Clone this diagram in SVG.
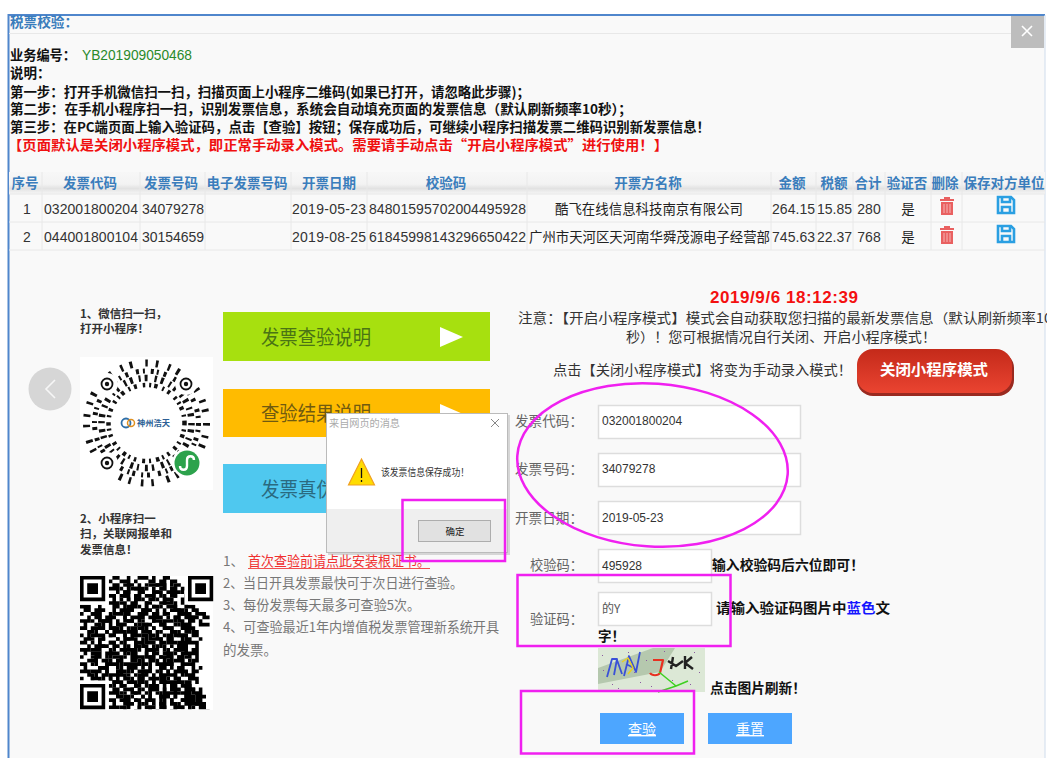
<svg xmlns="http://www.w3.org/2000/svg" width="1047" height="758" viewBox="0 0 1047 758">
<style>
text{font-family:"Noto Sans CJK SC","Liberation Sans",sans-serif;font-size:13.5px;fill:#222}
.l{font-family:"Liberation Sans","Noto Sans CJK SC",sans-serif;font-size:14px;fill:#333}
.b{font-weight:700;fill:#111}
.h{font-weight:700;fill:#3a7dbc;text-anchor:middle}
.m{text-anchor:middle}
.g{fill:#777;font-size:13.5px}
.f{fill:#666;font-size:14px}
.v{font-family:"Liberation Sans",sans-serif;font-size:12px;fill:#333}
.o{fill:none;stroke:#f020f0;stroke-width:2.5}
.grid{stroke:#e8e8e8;stroke-width:1;fill:none}
.inp{fill:#fff;stroke:#ddd;stroke-width:1.5}
.tr{fill:#e96060}
.btn{fill:#4da6ff}
.wt{fill:#fff;font-size:14px;text-anchor:middle;text-decoration:underline}
</style>
<defs>
<linearGradient id="hd" x1="0" y1="0" x2="0" y2="1"><stop offset="0" stop-color="#f7f7f7"/><stop offset=".55" stop-color="#f3f3f3"/><stop offset=".75" stop-color="#e2e2e2"/><stop offset="1" stop-color="#f6f6f6"/></linearGradient>
<linearGradient id="rb" x1="0" y1="0" x2="0" y2="1"><stop offset="0" stop-color="#c42a1a"/><stop offset="1" stop-color="#ea4431"/></linearGradient>
<clipPath id="qc"><rect width="37" height="37"/></clipPath>
<g id="trash"><path class="tr" d="M-7-7h14v2h-14zM-3-9h6v2h-6z"/><path class="tr" d="M-6-4h12v13h-12z"/><path d="M-3-2v9M0-2v9M3-2v9" stroke="#f5b5b5" stroke-width="1" fill="none"/></g>
<g id="save" fill="none" stroke="#2a9fe2" stroke-width="2.6"><path d="M-8-8h13l3 3v13h-16z"/><path d="M-4-8v5h8v-5"/><path d="M-4 8v-6h8v6"/></g>
<g id="finder"><circle r="5.5" fill="none" stroke="#111" stroke-width="1.8"/><circle r="2.2" fill="#111"/></g>
<path id="qrbits" fill="none" stroke="#000" stroke-width="1.02" d="
M9 .5h2m2 0h1m2 0h3m1 0h1m2 0h2M8 1.5h1m2 0h3m1 0h1m3 0h2m1 0h2m1 0h2M9 2.5h2m2 0h2m3 0h1m2 0h3m1 0h1M8 3.5h3m2 0h1m1 0h3m2 0h1m2 0h1m2 0h1M10 4.5h1m1 0h2m3 0h1m2 0h3m2 0h3M8 5.5h2m2 0h1m2 0h2m3 0h1m1 0h1m2 0h2M9 6.5h1m1 0h1m1 0h1m1 0h1m1 0h1m1 0h1m1 0h1m1 0h1M8 7.5h3m3 0h2m2 0h1m3 0h3m1 0h1
M0 8.5h3m2 0h1m3 0h2m2 0h3m2 0h1m1 0h2m3 0h2m2 0h3M1 9.5h2m1 0h3m2 0h1m3 0h2m2 0h3m3 0h1m2 0h3m2 0h2M0 10.5h1m2 0h3m3 0h3m1 0h1m3 0h1m2 0h2m1 0h1m3 0h2m1 0h1
M2 11.5h1m2 0h1m2 0h1m3 0h1m1 0h3m2 0h2m3 0h1m1 0h2m2 0h3M0 12.5h3m2 0h3m2 0h1m2 0h2m2 0h1m2 0h3m2 0h1m1 0h2M1 13.5h1m2 0h1m1 0h1m3 0h3m3 0h1m1 0h1m3 0h2m2 0h1m1 0h2
M0 14.5h2m3 0h2m2 0h1m1 0h1m2 0h2m2 0h1m1 0h1m2 0h3m2 0h2M2 15.5h2m3 0h1m2 0h3m2 0h1m1 0h3m2 0h1m2 0h1m1 0h1m2 0h1M0 16.5h1m1 0h1m2 0h2m1 0h1m3 0h1m2 0h2m2 0h2m3 0h2m1 0h3
M1 17.5h3m2 0h1m3 0h1m1 0h2m3 0h1m1 0h1m2 0h1m1 0h2m3 0h1M0 18.5h2m3 0h1m2 0h2m2 0h1m2 0h3m2 0h1m3 0h3m1 0h2M2 19.5h1m2 0h3m2 0h1m1 0h1m2 0h1m1 0h2m2 0h1m1 0h1m3 0h3
M0 20.5h3m2 0h1m3 0h1m2 0h3m1 0h1m2 0h3m2 0h1m1 0h2m1 0h1M1 21.5h1m1 0h2m2 0h2m3 0h1m1 0h1m3 0h1m1 0h1m2 0h3m2 0h2M0 22.5h1m3 0h1m2 0h1m1 0h3m2 0h2m2 0h3m1 0h1m2 0h1m1 0h2
M2 23.5h3m3 0h1m2 0h1m2 0h1m1 0h1m2 0h2m3 0h2m2 0h1m1 0h1M0 24.5h2m2 0h1m2 0h3m1 0h1m3 0h2m2 0h1m1 0h1m1 0h3m2 0h2M1 25.5h1m3 0h3m2 0h1m2 0h3m3 0h1m2 0h2m1 0h1m1 0h2
M0 26.5h3m2 0h1m1 0h1m3 0h1m1 0h1m2 0h3m2 0h1m2 0h1m2 0h3M2 27.5h2m2 0h2m2 0h3m2 0h1m1 0h1m2 0h1m1 0h3m1 0h1m2 0h1M0 28.5h1m2 0h1m2 0h1m1 0h1m3 0h2m2 0h2m2 0h1m1 0h2m2 0h2
M9 29.5h3m2 0h1m1 0h2m2 0h1m1 0h3m2 0h2m1 0h1M8 30.5h1m2 0h2m2 0h1m2 0h1m1 0h2m3 0h2m1 0h3M9 31.5h2m3 0h1m1 0h1m2 0h3m1 0h1m2 0h1m2 0h3
M8 32.5h3m1 0h1m2 0h2m2 0h1m2 0h1m2 0h3m1 0h2M10 33.5h2m2 0h1m2 0h1m1 0h1m2 0h2m2 0h1m2 0h3M8 34.5h2m3 0h1m1 0h2m2 0h2m2 0h1m1 0h1m2 0h1m1 0h2
M9 35.5h1m2 0h2m2 0h1m1 0h1m3 0h2m3 0h1m2 0h3M8 36.5h3m2 0h1m2 0h1m2 0h2m2 0h1m2 0h3m1 0h1"/>
</defs>
<rect width="1047" height="758" fill="#fff"/>
<g id="panel">
<rect x="8.5" y="15" width="1036.5" height="750" fill="#f9f9f9"/>
<path d="M8.500 760V15H1045" fill="none" stroke="#4f86cc" stroke-width="2"/>
<path d="M1045 15V760" fill="none" stroke="#cfdcec" stroke-width="1"/>
<path class="grid" d="M9 33.500H1044"/>
<text x="10" y="27" class="b" style="fill:#3a7dbc" textLength="68" lengthAdjust="spacingAndGlyphs">税票校验：</text>
</g>
<g id="close"><rect x="1011" y="16" width="33" height="32" fill="#bdbdbd"/><path d="M1022 26l10 10M1032 26l-10 10" stroke="#fff" stroke-width="1.600"/></g>
<g id="intro">
<text x="10" y="60" class="b" textLength="66" lengthAdjust="spacingAndGlyphs">业务编号：</text>
<text x="82" y="60" class="l" style="fill:#2a8a2a" textLength="110" lengthAdjust="spacingAndGlyphs">YB201909050468</text>
<text x="10" y="78" class="b">说明：</text>
<text x="10" y="97" class="b" textLength="520" lengthAdjust="spacingAndGlyphs">第一步：打开手机微信扫一扫，扫描页面上小程序二维码(如果已打开，请忽略此步骤)；</text>
<text x="10" y="114" class="b" textLength="622" lengthAdjust="spacingAndGlyphs">第二步：在手机小程序扫一扫，识别发票信息，系统会自动填充页面的发票信息（默认刷新频率10秒）；</text>
<text x="10" y="132" class="b" textLength="700" lengthAdjust="spacingAndGlyphs">第三步：在PC端页面上输入验证码，点击【查验】按钮；保存成功后，可继续小程序扫描发票二维码识别新发票信息！</text>
<text x="8" y="150" class="b" style="fill:#f01010" textLength="660" lengthAdjust="spacingAndGlyphs">【页面默认是关闭小程序模式，即正常手动录入模式。需要请手动点击“开启小程序模式”进行使用！】</text>
</g>
<g id="invoice-table">
<rect x="9" y="172" width="1036" height="22" fill="url(#hd)"/>
<path class="grid" d="M9 194H1045M9 222H1045M9 250H1045M42 172V250M140 172V250M205 172V250M291 172V250M367 172V250M527 172V250M771 172V250M816 172V250M853 172V250M885 172V250M931 172V250M962 172V250"/>
<text x="25" y="188" class="h">序号</text><text x="90" y="188" class="h">发票代码</text><text x="171" y="188" class="h">发票号码</text><text x="247" y="188" class="h">电子发票号码</text><text x="329" y="188" class="h">开票日期</text><text x="446" y="188" class="h">校验码</text><text x="648" y="188" class="h">开票方名称</text><text x="792" y="188" class="h">金额</text><text x="834" y="188" class="h">税额</text><text x="868" y="188" class="h">合计</text><text x="907" y="188" class="h">验证否</text><text x="945" y="188" class="h">删除</text><text x="1004" y="188" class="h">保存对方单位</text>
<text x="27" y="214" class="l m">1</text><text x="44" y="214" class="l" textLength="94">032001800204</text><text x="142" y="214" class="l" textLength="62">34079278</text><text x="292" y="214" class="l" textLength="74">2019-05-23</text><text x="369" y="214" class="l" textLength="157">84801595702004495928</text><text x="649" y="214" class="m" textLength="188" lengthAdjust="spacingAndGlyphs">酷飞在线信息科技南京有限公司</text><text x="772" y="214" class="l" textLength="43">264.15</text><text x="817" y="214" class="l" textLength="35">15.85</text><text x="869" y="214" class="l m">280</text><text x="908" y="214" class="m">是</text>
<use href="#trash" x="947" y="206"/><use href="#save" x="1006" y="205"/>
<text x="27" y="242" class="l m">2</text><text x="44" y="242" class="l" textLength="94">044001800104</text><text x="142" y="242" class="l" textLength="62">30154659</text><text x="292" y="242" class="l" textLength="74">2019-08-25</text><text x="369" y="242" class="l" textLength="157">61845998143296650422</text><text x="529" y="242" textLength="241" lengthAdjust="spacingAndGlyphs">广州市天河区天河南华舜茂源电子经营部</text><text x="772" y="242" class="l" textLength="43">745.63</text><text x="817" y="242" class="l" textLength="35">22.37</text><text x="869" y="242" class="l m">768</text><text x="908" y="242" class="m">是</text>
<use href="#trash" x="947" y="235"/><use href="#save" x="1006" y="234"/>
</g>
<g id="prev"><circle cx="50" cy="389" r="21.500" fill="#d6d6d6"/><path d="M55 380l-9 9 9 9" fill="none" stroke="#f6f6f6" stroke-width="1.600"/></g>
<g id="step1">
<text x="80" y="318" class="b" style="font-size:11.500px;fill:#333">1、微信扫一扫，</text>
<text x="80" y="333" class="b" style="font-size:11.500px;fill:#333">打开小程序！</text>
</g>
<g id="wechat-code">
<rect x="80" y="357" width="133" height="133" fill="#fff"/>
<g fill="none" stroke="#111">
<circle cx="146.500" cy="423" r="38" stroke-width="4.500" stroke-dasharray="2.500 4 2 3 3.500 5 2 4 3 6"/>
<circle cx="146.500" cy="423" r="45" stroke-width="6.500" stroke-dasharray="2.400 4 3 6 2 4 3 7"/>
<circle cx="146.500" cy="423" r="52" stroke-width="5" stroke-dasharray="3 4 2 6 3 3 2 5 3 8"/>
<circle cx="146.500" cy="423" r="60" stroke-width="7" stroke-dasharray="2.600 10 2.500 7 3 13 2.500 8"/>
</g>
<circle cx="107" cy="384" r="11" fill="#fff"/><circle cx="186" cy="384" r="11" fill="#fff"/><circle cx="107" cy="463" r="11" fill="#fff"/><circle cx="187" cy="463" r="15" fill="#fff"/>
<use href="#finder" x="107" y="384"/><use href="#finder" x="186" y="384"/><use href="#finder" x="107" y="463"/>
<circle cx="187" cy="463" r="12.500" fill="#2ca24c"/>
<path d="M180 466c0 5 7 5 7 0v-6c0-5 7-5 7 0" fill="none" stroke="#fff" stroke-width="2.400"/>
<circle cx="146.500" cy="423" r="33" fill="#fff"/>
<circle cx="126" cy="423" r="4.500" fill="none" stroke="#2f6fa8" stroke-width="1.800"/><circle cx="131" cy="423" r="3.500" fill="none" stroke="#e09020" stroke-width="1.500"/>
<text x="137" y="426" class="b" style="font-size:8px;fill:#2c5f95" textLength="33" lengthAdjust="spacingAndGlyphs">神州浩天</text>
</g>
<g id="step2">
<text x="80" y="523" class="b" style="font-size:11.500px;fill:#333">2、小程序扫一</text>
<text x="80" y="538" class="b" style="font-size:11.500px;fill:#333">扫，关联网报单和</text>
<text x="80" y="554" class="b" style="font-size:11.500px;fill:#333">发票信息！</text>
</g>
<g id="qr-code">
<rect x="80" y="576" width="133" height="134" fill="#fff"/>
<g transform="translate(80,576) scale(3.6)">
<g clip-path="url(#qc)"><use href="#qrbits"/><use href="#qrbits" x="3" y="2"/></g>
<path fill="#fff" d="M0 0h8v8h-8zM29 0h8v8h-8zM0 29h8v8h-8z"/>
<path fill="#000" fill-rule="evenodd" d="M0 0h7v7h-7zM1 1v5h5v-5zM2 2h3v3h-3zM30 0h7v7h-7zM31 1v5h5v-5zM32 2h3v3h-3zM0 30h7v7h-7zM1 31v5h5v-5zM2 32h3v3h-3z"/>
</g>
</g>
<g id="guide-buttons">
<rect x="223" y="312" width="267" height="49" fill="#a7e00f"/>
<text x="261" y="345" style="font-size:20px;fill:#4a7414" textLength="110" lengthAdjust="spacingAndGlyphs">发票查验说明</text>
<path d="M440 327l23 10-23 10z" fill="#fff"/>
<rect x="223" y="389" width="267" height="48" fill="#ffbb00"/>
<text x="261" y="421" style="font-size:20px;fill:#705a10" textLength="110" lengthAdjust="spacingAndGlyphs">查验结果说明</text>
<path d="M440 404l23 10-23 10z" fill="#fff"/>
<rect x="223" y="464" width="267" height="49" fill="#4fc8ef"/>
<text x="261" y="497" style="font-size:20px;fill:#2a6a80" textLength="74" lengthAdjust="spacingAndGlyphs">发票真伪</text>
</g>
<g id="notes">
<text x="223" y="566" class="g">1、</text>
<text x="248" y="566" style="fill:#f03030" textLength="182" lengthAdjust="spacingAndGlyphs">首次查验前请点此安装根证书。</text>
<path d="M248 568.500H430" stroke="#f05050" stroke-width="1.200"/>
<text x="223" y="588" class="g" textLength="240" lengthAdjust="spacingAndGlyphs">2、当日开具发票最快可于次日进行查验。</text>
<text x="223" y="610" class="g" textLength="197" lengthAdjust="spacingAndGlyphs">3、每份发票每天最多可查验5次。</text>
<text x="223" y="632" class="g" textLength="276" lengthAdjust="spacingAndGlyphs">4、可查验最近1年内增值税发票管理新系统开具</text>
<text x="223" y="655" class="g" textLength="54" lengthAdjust="spacingAndGlyphs">的发票。</text>
</g>
<g id="mode-notice">
<text x="710" y="303" class="b" style="fill:#f41010;font-size:17px;font-family:'Liberation Sans',sans-serif" textLength="148">2019/9/6 18:12:39</text>
<text x="518" y="323" style="fill:#333" textLength="534" lengthAdjust="spacingAndGlyphs">注意：【开启小程序模式】模式会自动获取您扫描的最新发票信息（默认刷新频率10</text>
<text x="626" y="342" style="fill:#333" textLength="310" lengthAdjust="spacingAndGlyphs">秒）！您可根据情况自行关闭、开启小程序模式！</text>
<text x="553" y="375" style="fill:#333" textLength="299" lengthAdjust="spacingAndGlyphs">点击【关闭小程序模式】将变为手动录入模式！</text>
</g>
<g id="close-mode-button">
<rect x="857" y="352" width="157" height="44" rx="16" fill="#9a2a20"/>
<rect x="857" y="349" width="155" height="44" rx="16" fill="url(#rb)"/>
<text x="880" y="375" class="b" style="fill:#fff;font-size:15px" textLength="108" lengthAdjust="spacingAndGlyphs">关闭小程序模式</text>
</g>
<g id="form">
<rect class="inp" x="598.500" y="405.500" width="202" height="33"/><rect class="inp" x="598.500" y="453.500" width="202" height="33"/><rect class="inp" x="598.500" y="501.500" width="202" height="33"/><rect class="inp" x="598.500" y="549.500" width="113" height="33"/><rect class="inp" x="598.500" y="592.500" width="113" height="33"/>
<text x="515" y="426" class="f" textLength="68" lengthAdjust="spacingAndGlyphs">发票代码：</text>
<text x="515" y="474" class="f" textLength="68" lengthAdjust="spacingAndGlyphs">发票号码：</text>
<text x="515" y="523" class="f" textLength="68" lengthAdjust="spacingAndGlyphs">开票日期：</text>
<text x="530" y="570" class="f" textLength="53" lengthAdjust="spacingAndGlyphs">校验码：</text>
<text x="530" y="624" class="f" textLength="53" lengthAdjust="spacingAndGlyphs">验证码：</text>
<text x="602" y="425" class="v">032001800204</text><text x="602" y="473" class="v">34079278</text><text x="602" y="522" class="v">2019-05-23</text><text x="602" y="570" class="v">495928</text>
<text x="602" y="613" style="font-size:12px;fill:#555">的Y</text>
<text x="712" y="570" class="b" textLength="152" lengthAdjust="spacingAndGlyphs">输入校验码后六位即可！</text>
<text x="716" y="613" class="b" textLength="174" lengthAdjust="spacingAndGlyphs">请输入验证码图片中<tspan style="fill:#1515ff">蓝色</tspan>文</text>
<text x="598" y="641" class="b">字！</text>
<text x="710" y="693" class="b" textLength="96" lengthAdjust="spacingAndGlyphs">点击图片刷新！</text>
</g>
<g id="captcha">
<rect x="598" y="648" width="107" height="44" fill="#dce8d6"/>
<path d="M598 668l55-20h22l-15 24-62 12z" fill="#b5c8ae"/>
<g fill="none" stroke-linejoin="round">
<path d="M607 677l5-18 5 0-3 16M617 660l5 14M624 676l5-20 7 16 4-20M626 664l8 4" stroke="#3a50d8" stroke-width="1.800"/>
<path d="M622 662l6-4 5 10-5 6" stroke="#e8d020" stroke-width="1.500"/>
<path d="M653 660h10l-3 13c-2 3-8 3-10 0" stroke="#e83020" stroke-width="2.200"/>
<path d="M668 661l8 5 7-5M673 657l-2 12M685 656v13M685 663l7-6M685 663l8 6" stroke="#222" stroke-width="2.400"/>
<path d="M659 672l17 14 12-5M676 686l-18 6" stroke="#3ed020" stroke-width="1.500"/>
</g>
<path d="M602 655h1v1h-1zM612 684h1v1h-1zM628 652h1v1h-1zM640 682h1v1h-1zM646 660h1v1h-1zM664 651h1v1h-1zM672 680h1v1h-1zM694 652h1v1h-1zM699 672h1v1h-1zM690 684h1v1h-1zM603 670h1v1h-1zM618 688h1v1h-1zM634 672h1v1h-1zM651 686h1v1h-1z" fill="#8a5aa0"/>
</g>
<g id="dialog">
<rect x="328" y="415" width="182" height="140" fill="#aaa" opacity=".45"/>
<rect x="326.500" y="413.500" width="181" height="139" fill="#fff" stroke="#bbb"/>
<rect x="327" y="509" width="180" height="43" fill="#efefef"/>
<text x="329" y="427" style="font-size:10.500px;fill:#aaa" textLength="71" lengthAdjust="spacingAndGlyphs">来自网页的消息</text>
<path d="M491 419l8 8M499 419l-8 8" stroke="#888" stroke-width="1"/>
<path d="M361.500 459l13 26h-26z" fill="#ffdc00" stroke="#f0a020" stroke-width="1.200"/>
<path d="M361.500 468v10M361.500 480v2" stroke="#111" stroke-width="1.300"/>
<text x="381" y="476" style="font-size:10px;fill:#333" textLength="88" lengthAdjust="spacingAndGlyphs">该发票信息保存成功！</text>
<rect x="418.500" y="520.500" width="72" height="21" fill="#e1e1e1" stroke="#adadad"/>
<text x="455" y="535" class="m" style="font-size:9.500px;fill:#222">确定</text>
</g>
<g id="action-buttons">
<rect class="btn" x="600" y="713" width="84" height="31"/><text x="642" y="734" class="wt">查验</text>
<rect class="btn" x="708" y="713" width="84" height="31"/><text x="750" y="734" class="wt">重置</text>
</g>
<g id="annotations">
<ellipse class="o" cx="652.500" cy="465" rx="135.500" ry="81.500" transform="rotate(4 652.500 465)"/>
<rect class="o" x="402.500" y="500" width="102.500" height="61"/>
<rect class="o" x="517.500" y="575" width="213" height="71"/>
<rect class="o" x="521" y="691" width="173" height="62.500"/>
</g>
</svg>
